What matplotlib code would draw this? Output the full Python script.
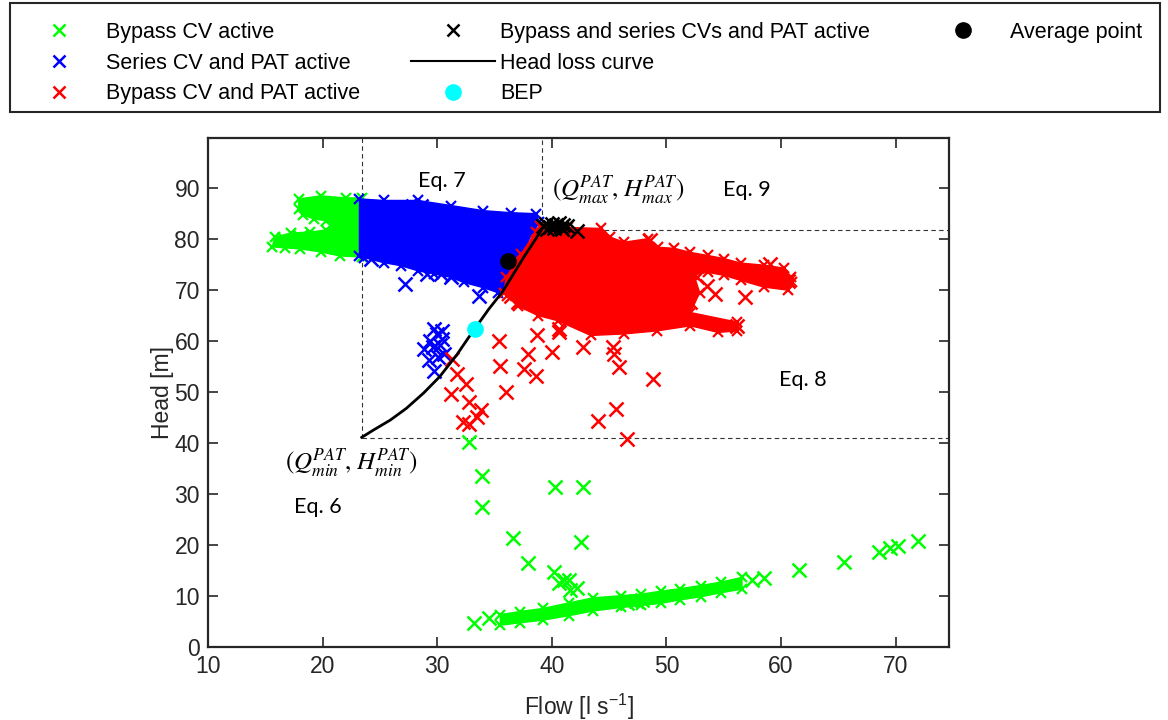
import numpy as np
import matplotlib.pyplot as plt
from matplotlib.lines import Line2D
from matplotlib.patches import Rectangle

plt.rcParams['font.family'] = ['Liberation Sans', 'DejaVu Sans']
plt.rcParams['mathtext.default'] = 'regular'

# dense regions of the clouds (outlines)
green_blob_q = [17.9, 19.8, 22.0, 23.4, 23.4, 21.5, 19.8, 18.0, 16.7, 15.6, 15.8, 17.2, 18.9, 20.3, 20.8, 20.3, 19.2, 18.3, 17.9]
green_blob_h = [87.9, 88.5, 88.1, 88.1, 76.5, 76.7, 77.5, 78.1, 78.3, 78.5, 80.4, 81.2, 81.4, 81.8, 82.8, 83.6, 84.0, 84.7, 86.0]
green_band_q = [35.5, 37.2, 39.2, 41.5, 43.6, 46.0, 47.8, 49.5, 51.2, 53.0, 54.8, 56.6, 56.6, 54.8, 53.0, 51.2, 49.5, 47.8, 46.0, 43.6, 41.5, 39.2, 37.2, 35.5]
green_band_h = [6.3, 6.9, 7.5, 8.6, 9.6, 10.0, 10.3, 10.9, 11.4, 12.0, 12.7, 13.6, 11.3, 10.6, 9.8, 9.2, 8.5, 8.1, 7.7, 7.0, 6.1, 5.2, 4.7, 4.2]
blue_blob_q = [23.2, 25.3, 28.3, 31.2, 34.0, 36.4, 38.6, 38.9, 38.2, 37.0, 36.2, 35.8, 35.3, 34.0, 32.3, 31.2, 29.7, 28.3, 26.8, 25.3, 23.6, 23.2]
blue_blob_h = [87.9, 87.6, 87.6, 86.6, 85.6, 85.2, 85.0, 83.3, 80.8, 75.4, 72.9, 70.9, 69.5, 70.5, 71.5, 72.5, 73.2, 73.8, 74.8, 75.4, 76.4, 76.7]
red_blob_q = [39.0, 41.4, 44.3, 45.1, 46.3, 48.4, 49.3, 50.7, 52.1, 53.6, 55.0, 56.5, 58.5, 60.3, 60.9, 61.0, 60.6, 58.5, 56.5,
              55.0, 53.6, 52.4, 52.9, 52.1, 56.2, 56.2, 54.5, 52.1, 49.2, 46.3, 43.4, 40.5, 38.8, 37.0, 36.1, 35.8, 36.0, 37.3, 38.6]
red_blob_h = [82.5, 82.3, 82.1, 80.4, 79.4, 80.1, 78.4, 78.2, 77.4, 76.8, 76.2, 75.3, 74.9, 74.3, 72.5, 71.5, 70.0, 70.6, 71.9,
              72.9, 73.5, 73.0, 69.5, 65.6, 63.7, 62.0, 61.7, 63.0, 62.0, 61.4, 61.1, 64.0, 65.0, 66.9, 68.9, 69.5, 72.5, 77.0, 81.5]

# individual points
green_q = [33.2, 34.5, 16.6, 18.0, 19.2, 32.8, 33.9, 33.9, 36.6, 37.9, 40.2, 40.6, 41.1, 41.5, 41.6, 42.2, 42.5, 40.3, 42.7,
           46.6, 47.3, 47.9, 57.5, 58.5, 61.6, 65.5, 68.6, 69.5, 70.2, 72.0]
green_h = [4.6, 5.6, 80.0, 80.5, 79.8, 40.2, 33.6, 27.5, 21.3, 16.4, 14.7, 12.5, 13.1, 13.1, 11.2, 11.5, 20.6, 31.4, 31.4,
           8.6, 8.9, 9.1, 13.1, 13.4, 15.1, 16.7, 18.5, 19.3, 19.8, 20.7]
blue_q = [27.2, 33.6, 24.2, 27.9, 28.6, 29.1, 30.3, 31.2, 28.8, 29.4, 30.0, 30.4, 29.7, 29.3, 30.1, 29.7, 30.6, 30.2, 29.6, 30.4]
blue_h = [71.2, 68.9, 76.1, 86.6, 86.6, 73.1, 73.1, 72.6, 58.5, 60.1, 61.4, 60.4, 62.4, 56.2, 56.8, 54.2, 57.5, 59.3, 58.9, 62.0]
red_q = [31.3, 31.7, 32.5, 31.2, 32.8, 32.2, 32.8, 33.5, 33.8, 35.4, 35.5, 36.0, 37.9, 37.6, 38.6, 38.7, 40.0, 40.6, 42.7,
         45.3, 45.4, 45.9, 48.8, 44.0, 45.6, 46.6, 37.0, 36.4, 40.6, 48.6, 52.7, 53.5, 54.2, 52.1, 56.9, 60.6, 59.0, 56.2]
red_h = [56.5, 53.6, 51.6, 49.7, 48.0, 44.1, 43.8, 45.1, 46.4, 60.1, 55.2, 50.0, 57.5, 54.5, 53.2, 61.1, 57.8, 61.7, 58.8,
         58.8, 57.5, 54.9, 52.6, 44.4, 46.7, 40.8, 67.6, 68.9, 62.4, 79.9, 72.5, 70.8, 69.2, 67.6, 68.6, 71.8, 75.1, 63.0]
black_q = [39.2, 39.5, 39.8, 40.0, 40.2, 40.4, 40.6, 40.8, 41.0, 39.6, 40.9, 41.3, 42.2]
black_h = [82.6, 83.0, 82.4, 82.9, 82.2, 82.7, 83.1, 82.4, 82.8, 81.9, 82.0, 82.6, 81.7]

curve_q = [23.4, 24.4, 25.9, 27.3, 28.8, 30.2, 31.7, 32.7, 33.2, 34.5, 35.7, 37.5, 39.1]
curve_h = [41.1, 42.5, 44.5, 46.8, 49.8, 53.0, 57.3, 60.6, 62.2, 66.3, 69.7, 76.3, 81.8]
bep = (33.3, 62.4)
avg_point = (36.2, 75.7)
q_min, h_min = 23.4, 40.9
q_max, h_max = 39.1, 81.8

x_ticks = [10, 20, 30, 40, 50, 60, 70]
y_ticks = [0, 10, 20, 30, 40, 50, 60, 70, 80, 90]

fig = plt.figure(figsize=(11.68, 7.2), dpi=100)
ax = fig.add_axes([0.1783, 0.1018, 0.6345, 0.7061])
xmax, ymax = 74.7, 99.8

# dashed limits
dash = dict(color='#333333', lw=0.8, ls=(0, (4, 3)), zorder=1)
ax.plot([q_min, q_min], [h_min, ymax], **dash)
ax.plot([q_min, xmax], [h_min, h_min], **dash)
ax.plot([q_max, q_max], [h_max, ymax], **dash)
ax.plot([q_max, xmax], [h_max, h_max], **dash)

mk = dict(marker='x', ls='none', ms=10, mew=1.8)
edge = dict(marker='x', ls='none', ms=7, mew=1.6)
ax.fill(green_blob_q, green_blob_h, color='#00ff00', lw=1, zorder=2)
ax.plot(green_blob_q, green_blob_h, color='#00ff00', zorder=2, **edge)
ax.fill(green_band_q, green_band_h, color='#00ff00', lw=1, zorder=2)
ax.plot(green_band_q, green_band_h, color='#00ff00', zorder=2, **edge)
h1, = ax.plot(green_q, green_h, color='#00ff00', zorder=2, **mk)
ax.fill(blue_blob_q, blue_blob_h, color='#0000ff', lw=1, zorder=3)
ax.plot(blue_blob_q, blue_blob_h, color='#0000ff', zorder=3, **edge)
h2, = ax.plot(blue_q, blue_h, color='#0000ff', zorder=3, **mk)
ax.fill(red_blob_q, red_blob_h, color='#ff0000', lw=1, zorder=4)
ax.plot(red_blob_q, red_blob_h, color='#ff0000', zorder=4, **edge)
h3, = ax.plot(red_q, red_h, color='#ff0000', zorder=4, **mk)
h4, = ax.plot(black_q, black_h, color='black', zorder=5, **mk)
h5, = ax.plot(curve_q, curve_h, color='black', lw=2, zorder=6)
h6, = ax.plot([bep[0]], [bep[1]], 'o', color='#00ffff', ms=11, zorder=7)
h7, = ax.plot([avg_point[0]], [avg_point[1]], 'o', color='black', ms=11, zorder=7)

ax.text(30.4, 91.4, 'Eq. 7', family='Lato', fontsize=15.5, ha='center', va='center')
ax.text(57.0, 89.7, 'Eq. 9', family='Lato', fontsize=15.5, ha='center', va='center')
ax.text(61.9, 52.4, 'Eq. 8', family='Lato', fontsize=15.5, ha='center', va='center')
ax.text(19.6, 27.4, 'Eq. 6', family='Lato', fontsize=15.5, ha='center', va='center')
qmax_lbl = r'$\mathrm{(}\mathit{Q}_{\mathit{max}}^{\mathit{PAT}}\mathrm{,}\ \mathit{H}_{\mathit{max}}^{\mathit{PAT}}\mathrm{)}$'
qmin_lbl = r'$\mathrm{(}\mathit{Q}_{\mathit{min}}^{\mathit{PAT}}\mathrm{,}\ \mathit{H}_{\mathit{min}}^{\mathit{PAT}}\mathrm{)}$'
ax.text(45.8, 89.7, qmax_lbl, math_fontfamily='stix', fontsize=18, ha='center', va='center')
ax.text(22.45, 36.1, qmin_lbl, math_fontfamily='stix', fontsize=18, ha='center', va='center')

ax.set_xlim(10, xmax)
ax.set_ylim(0, ymax)
ax.set_xticks(x_ticks)
ax.set_yticks(y_ticks)
ax.tick_params(direction='in', top=True, right=True, length=7, width=1.2,
               labelsize=16.5, colors='#262626', pad=6)
for s in ax.spines.values():
    s.set_color('#262626')
    s.set_linewidth(1.6)
ax.set_xlabel('Flow [l s$^{-1}$]', fontsize=16.5, color='#262626', labelpad=10)
ax.set_ylabel('Head [m]', fontsize=16.5, color='#262626', labelpad=0)

labels = ['Bypass CV active', 'Series CV and PAT active', 'Bypass CV and PAT active',
          'Bypass and series CVs and PAT active', 'Head loss curve', 'BEP', 'Average point', '']
leg_handles = [Line2D([], [], color='#00ff00', **mk), Line2D([], [], color='#0000ff', **mk),
               Line2D([], [], color='#ff0000', **mk), Line2D([], [], color='black', **mk),
               Line2D([], [], color='black', lw=1.5), Line2D([], [], marker='o', ls='none', color='#00ffff', ms=11),
               Line2D([], [], marker='o', ls='none', color='black', ms=11), Line2D([], [], ls='none')]
for hd in leg_handles[:4]:
    hd.set_markersize(8)
    hd.set_markeredgewidth(1.8)
fig.legend(leg_handles, labels, loc='upper left', bbox_to_anchor=(17 / 1168, 1 - 22 / 720), ncol=3,
           frameon=False, fontsize=15.5, handlelength=3.9, handletextpad=0.25, columnspacing=2.35,
           labelspacing=0.45, borderpad=0, borderaxespad=0)
fig.patches.append(Rectangle((10 / 1168, 1 - 112 / 720), 1150 / 1168, 109 / 720, transform=fig.transFigure,
                             fill=False, edgecolor='#262626', lw=1.5))

fig.savefig('out.png', dpi=100)
